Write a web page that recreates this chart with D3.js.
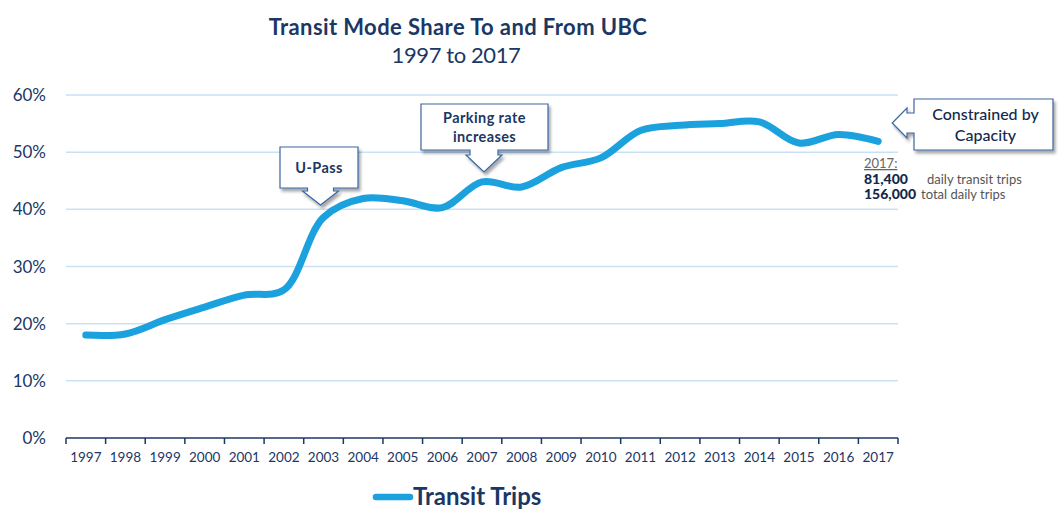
<!DOCTYPE html>
<html>
<head>
<meta charset="utf-8">
<script src="https://cdn.jsdelivr.net/npm/d3@7"></script>
<style>
  html, body { margin: 0; padding: 0; background: #fff; }
  svg { display: block; }
</style>
</head>
<body>
<svg id="chart" width="1064" height="524"></svg>
<script>
const years = ["1997","1998","1999","2000","2001","2002","2003","2004","2005","2006","2007","2008","2009","2010","2011","2012","2013","2014","2015","2016","2017"];
const transitShare = [18.0, 18.2, 20.7, 22.9, 25.0, 25.9, 38.6, 41.9, 41.5, 40.3, 44.8, 43.9, 47.3, 49.0, 53.8, 54.7, 55.0, 55.3, 51.6, 53.1, 51.9];
const yTicks = [0, 10, 20, 30, 40, 50, 60];
const seriesName = "Transit Trips";
const titleText = "Transit Mode Share To and From UBC";
const subtitleText = "1997 to 2017";
const callouts = [
  { lines: ["U-Pass"], year: "2003" },
  { lines: ["Parking rate", "increases"], year: "2007" },
  { lines: ["Constrained by", "Capacity"], year: "2017" }
];
const note = { label: "2017:", rows: [["81,400", "daily transit trips"], ["156,000", "total daily trips"]] };

const navy = "#1b3764";
const lineBlue = "#1aa1de";
const gridBlue = "#c9e1f5";
const boxStroke = "#3a67a0";

const svg = d3.select("#chart");
const font = "Lato, 'Open Sans', sans-serif";

const x = d3.scaleBand().domain(years).range([66, 898]).paddingInner(0).paddingOuter(0);
const y = d3.scaleLinear().domain([0, 60]).range([438, 95]);
const cx = d => x(d) + x.bandwidth() / 2;

// shadow filter
const defs = svg.append("defs");
const f = defs.append("filter").attr("id", "sh").attr("x", "-20%").attr("y", "-20%").attr("width", "140%").attr("height", "150%");
f.append("feDropShadow").attr("dx", 2).attr("dy", 3).attr("stdDeviation", 1.5).attr("flood-color", "#000").attr("flood-opacity", 0.35);

// Title
svg.append("text").attr("x", 458).attr("y", 35).attr("text-anchor", "middle")
  .attr("font-family", font).attr("font-weight", 700).attr("font-size", 22).attr("letter-spacing", 0.4)
  .attr("fill", navy).text(titleText);
svg.append("text").attr("x", 456).attr("y", 63).attr("text-anchor", "middle")
  .attr("font-family", font).attr("font-weight", 400).attr("font-size", 22).attr("letter-spacing", -0.4)
  .attr("fill", navy).text(subtitleText);

// Gridlines
svg.append("g").selectAll("line").data(yTicks.filter(t => t > 0)).join("line")
  .attr("x1", 66).attr("x2", 898).attr("y1", d => y(d)).attr("y2", d => y(d))
  .attr("stroke", gridBlue).attr("stroke-width", 1.5);

// Y labels
svg.append("g").selectAll("text").data(yTicks).join("text")
  .attr("x", 46).attr("y", d => y(d) + 6).attr("text-anchor", "end")
  .attr("font-family", font).attr("font-size", 17).attr("fill", navy)
  .text(d => d + "%");

// X axis
const xa = svg.append("g").attr("transform", "translate(0,438)")
  .call(d3.axisBottom(x).tickSize(0).tickPadding(14));
xa.select(".domain").remove();
xa.selectAll("text").attr("font-family", font).attr("font-size", 13.5).attr("fill", navy);
svg.append("line").attr("x1", 66).attr("x2", 898).attr("y1", 438).attr("y2", 438).attr("stroke", navy).attr("stroke-width", 1.5);
const edges = years.map(d => x(d)).concat([x.range()[1]]);
svg.append("g").selectAll("line").data(edges).join("line")
  .attr("x1", d => d).attr("x2", d => d).attr("y1", 438).attr("y2", 444)
  .attr("stroke", navy).attr("stroke-width", 1.5);

// Line
const line = d3.line().x((d, i) => cx(years[i])).y(d => y(d)).curve(d3.curveCatmullRom.alpha(0.5));
svg.append("path").datum(transitShare).attr("d", line)
  .attr("fill", "none").attr("stroke", lineBlue).attr("stroke-width", 7).attr("stroke-linecap", "round").attr("stroke-linejoin", "round");

// Callouts
function downCallout(c, bx, by, bw, bh, tipX, tipY, shaftW, headW, shaftLen) {
  const g = svg.append("g").attr("filter", "url(#sh)");
  const hx = tipX;
  const b = by + bh;
  const pts = [
    [bx, by], [bx + bw, by], [bx + bw, b], [hx + shaftW / 2, b], [hx + shaftW / 2, b + shaftLen],
    [hx + headW / 2, b + shaftLen], [hx, tipY], [hx - headW / 2, b + shaftLen], [hx - shaftW / 2, b + shaftLen],
    [hx - shaftW / 2, b], [bx, b]
  ];
  g.append("path").attr("d", "M" + pts.map(p => p.join(",")).join("L") + "Z")
    .attr("fill", "#fff").attr("stroke", boxStroke).attr("stroke-width", 1.2);
  const t = svg.append("g");
  c.lines.forEach((l, i) => {
    const n = c.lines.length;
    t.append("text").attr("x", bx + bw / 2).attr("y", by + bh / 2 + 5 + (i - (n - 1) / 2) * 19)
      .attr("text-anchor", "middle").attr("font-family", font).attr("font-weight", 700)
      .attr("font-size", 14.5).attr("fill", navy).attr("letter-spacing", 0.4).text(l);
  });
}
downCallout(callouts[0], 280, 147, 78, 41, cx(callouts[0].year) - 3, 205, 26, 36, 3);
downCallout(callouts[1], 421, 104, 127, 46, cx(callouts[1].year) + 2, 172, 28, 36, 5);

// Constrained by capacity (arrow left)
(function () {
  const c = callouts[2];
  const bx = 914, by = 99, bw = 139, bh = 51;
  const tipX = cx(c.year) + 14, tipY = 123;
  const g = svg.append("g").attr("filter", "url(#sh)");
  const pts = [
    [bx, by], [bx + bw, by], [bx + bw, by + bh], [bx, by + bh], [bx, 133], [907, 133], [907, 138],
    [tipX, tipY], [907, 108], [907, 113], [bx, 113]
  ];
  g.append("path").attr("d", "M" + pts.map(p => p.join(",")).join("L") + "Z")
    .attr("fill", "#fff").attr("stroke", boxStroke).attr("stroke-width", 1.2);
  c.lines.forEach((l, i) => {
    svg.append("text").attr("x", bx + bw / 2 + 2).attr("y", 120 + i * 21)
      .attr("text-anchor", "middle").attr("font-family", font).attr("font-weight", 500)
      .attr("font-size", 16).attr("fill", "#13294b").text(l);
  });
})();

// Note
svg.append("text").attr("x", 864).attr("y", 168).attr("font-family", font).attr("font-size", 13)
  .attr("fill", "#666").attr("text-decoration", "underline").text(note.label);
note.rows.forEach((r, i) => {
  svg.append("text").attr("x", 864).attr("y", 184 + i * 15).attr("font-family", font).attr("font-weight", 900)
    .attr("font-size", 14).attr("fill", "#13294b").text(r[0]);
  svg.append("text").attr("x", i === 0 ? 927 : 921).attr("y", 184 + i * 15).attr("font-family", font)
    .attr("font-size", 13).attr("fill", "#555").text(r[1]);
});

// Legend
svg.append("line").attr("x1", 376).attr("x2", 410).attr("y1", 497).attr("y2", 497)
  .attr("stroke", lineBlue).attr("stroke-width", 6.5).attr("stroke-linecap", "round");
svg.append("text").attr("x", 413).attr("y", 505).attr("font-family", font).attr("font-weight", 700)
  .attr("font-size", 24).attr("fill", navy).text(seriesName);
</script>
</body>
</html>
